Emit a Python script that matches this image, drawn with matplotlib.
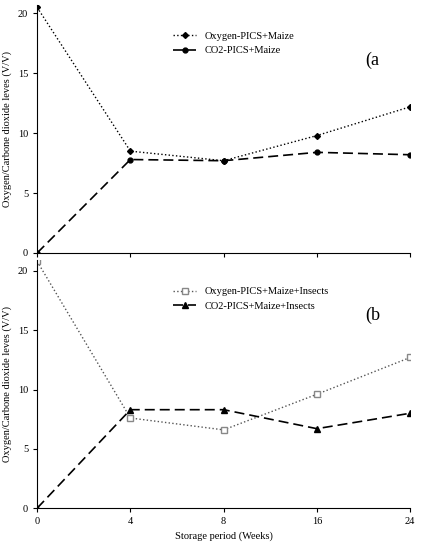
import matplotlib
matplotlib.use("Agg")
import matplotlib.pyplot as plt

weeks = ["0", "4", "8", "16", "24"]
o2_a = [20.5, 8.5, 7.7, 9.8, 12.2]
co2_a = [0.0, 7.8, 7.7, 8.4, 8.2]
o2_b = [20.8, 7.6, 6.6, 9.6, 12.7]
co2_b = [0.0, 8.3, 8.3, 6.7, 8.0]

plt.rcParams['font.family'] = ['Liberation Serif', 'DejaVu Serif']
fig = plt.figure(figsize=(4.42, 5.5), dpi=100)
ax1 = fig.add_axes([0.084, 0.54, 0.844, 0.451])
ax2 = fig.add_axes([0.084, 0.076, 0.844, 0.451])
x = list(range(len(weeks)))

ax1.plot(x, o2_a, ':', color='black', marker='D', ms=3, lw=1, label='Oxygen-PICS+Maize')
ax1.plot(x, co2_a, '--', color='black', marker='o', ms=3.5, lw=1.2, dashes=(6, 3), label='CO2-PICS+Maize')
ax2.plot(x, o2_b, ':', color='#555555', marker='s', ms=4, mfc='white', mec='#888888', lw=1, label='Oxygen-PICS+Maize+Insects')
ax2.plot(x, co2_b, '--', color='black', marker='^', ms=4, lw=1.2, dashes=(6, 3), label='CO2-PICS+Maize+Insects')

for ax, lab, ymax in [(ax1, '(a', 20.7), (ax2, '(b', 20.9)]:
    ax.set_xlim(0, 4)
    ax.set_ylim(0, ymax)
    ax.set_yticks([0, 5, 10, 15, 20])
    ax.set_xticks(x)
    ax.spines['top'].set_visible(False)
    ax.spines['right'].set_visible(False)
    ax.tick_params(labelsize=7.5, direction='out', length=3)
    ax.set_ylabel('Oxygen/Carbone dioxide leves (V/V)', fontsize=7.5)
    ax.text(0.88, 0.76, lab, transform=ax.transAxes, fontsize=13)
    ax.legend(loc='upper left', bbox_to_anchor=(0.34, 0.93), frameon=False, fontsize=7.5, handlelength=2.2)
ax1.set_xticklabels([])
ax2.set_xticklabels(weeks)
ax2.set_xlabel('Storage period (Weeks)', fontsize=7.5)
fig.savefig('out.png', dpi=100)
